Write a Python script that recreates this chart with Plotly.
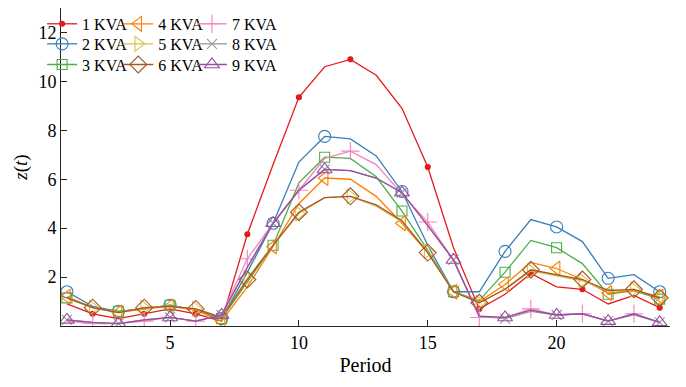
import plotly.graph_objects as go

periods = list(range(1, 25))

kva_1 = [0.9, 0.5, 0.3, 0.5, 0.7, 0.5, 0.2, 3.75, 6.6, 9.35, 10.6, 10.9, 10.25, 8.9, 6.5, 3.2, 0.7, 1.3, 2.15, 1.6, 1.5, 0.9, 1.25, 0.75]
kva_2 = [1.4, 0.8, 0.6, 0.7, 0.85, 0.65, 0.3, 2.2, 4.2, 6.7, 7.75, 7.65, 6.95, 5.5, 3.3, 1.4, 1.4, 3.05, 4.35, 4.05, 3.45, 1.95, 2.1, 1.4]
kva_3 = [1.15, 0.75, 0.6, 0.7, 0.85, 0.65, 0.3, 1.8, 3.3, 5.85, 6.9, 6.85, 6.1, 4.7, 3.1, 1.4, 1.05, 2.2, 3.5, 3.2, 2.55, 1.3, 1.45, 1.1]
kva_4 = [1.2, 0.75, 0.55, 0.7, 0.8, 0.65, 0.2, 1.6, 3.25, 5.0, 6.05, 6.0, 5.3, 4.2, 3.0, 1.4, 1.0, 1.7, 2.6, 2.35, 1.9, 1.35, 1.45, 1.2]
kva_5 = [1.15, 0.75, 0.55, 0.75, 0.8, 0.7, 0.35, 1.95, 3.3, 4.6, 5.25, 5.3, 4.9, 4.25, 3.05, 1.4, 0.95, 1.5, 2.25, 2.05, 1.85, 1.45, 1.5, 1.15]
kva_6 = [1.15, 0.75, 0.55, 0.75, 0.8, 0.7, 0.35, 1.9, 3.3, 4.65, 5.25, 5.3, 4.95, 4.3, 3.0, 1.4, 0.95, 1.5, 2.3, 2.1, 1.9, 1.45, 1.5, 1.15]
kva_7 = [0.2, 0.1, 0.1, 0.2, 0.35, 0.2, 0.45, 2.75, 4.2, 5.55, 6.85, 7.15, 6.6, 5.4, 4.25, 2.7, 0.35, 0.35, 0.7, 0.45, 0.5, 0.2, 0.5, 0.15]
kva_8 = [0.25, 0.15, 0.1, 0.25, 0.35, 0.2, 0.45, 2.4, 4.2, 5.55, 6.4, 6.35, 6.05, 5.45, 4.1, 2.7, 0.4, 0.3, 0.6, 0.45, 0.5, 0.2, 0.45, 0.15]
kva_9 = [0.25, 0.15, 0.1, 0.25, 0.35, 0.2, 0.45, 2.4, 4.2, 5.55, 6.4, 6.35, 6.05, 5.45, 4.1, 2.7, 0.4, 0.35, 0.65, 0.45, 0.5, 0.2, 0.5, 0.15]

series_names = ["1 KVA", "2 KVA", "3 KVA", "4 KVA", "5 KVA", "6 KVA", "7 KVA", "8 KVA", "9 KVA"]
series_values = [kva_1, kva_2, kva_3, kva_4, kva_5, kva_6, kva_7, kva_8, kva_9]

# periods at which markers are drawn
marks_odd = [1, 3, 5, 7, 9, 11, 14, 16, 18, 20, 22, 24]
marks_even = [2, 4, 6, 8, 10, 12, 15, 17, 19, 21, 23]
marks_red = [2, 4, 6, 8, 10, 12, 15, 17, 19, 21, 24]
marks_brown = [2, 4, 6, 8, 10, 12, 15, 17, 19, 21, 23, 24]

styles = [
    dict(color="#e41a1c", symbol="circle", size=5, marks=marks_red),
    dict(color="#377eb8", symbol="circle-open", size=12, marks=marks_odd),
    dict(color="#4daf4a", symbol="square-open", size=10, marks=marks_odd),
    dict(color="#ff7f00", symbol="triangle-left-open", size=13, marks=marks_odd),
    dict(color="#d9c24a", symbol="triangle-right-open", size=13, marks=marks_brown),
    dict(color="#a65628", symbol="diamond-open", size=13, marks=marks_brown),
    dict(color="#f781bf", symbol="cross-thin-open", size=13, marks=marks_even),
    dict(color="#999999", symbol="x-thin-open", size=10, marks=marks_odd),
    dict(color="#984ea3", symbol="triangle-up-open", size=13, marks=marks_odd),
]

# legend grid: 3 rows x 3 columns (column-major), one legend box per entry
col_x = [-0.031, 0.094, 0.215]
row_y = [0.950, 0.887, 0.822]

fig = go.Figure()
legend_layout = {}
for i, (name, vals, st) in enumerate(zip(series_names, series_values, styles)):
    lg = "legend" if i == 0 else f"legend{i + 1}"
    fig.add_trace(go.Scatter(
        x=periods, y=vals, mode="lines",
        line=dict(color=st["color"], width=1.3),
        showlegend=False, legendgroup=name, hoverinfo="skip",
    ))
    mx = [p for p in st["marks"]]
    my = [vals[p - 1] for p in st["marks"]]
    fig.add_trace(go.Scatter(
        x=mx, y=my, mode="markers",
        marker=dict(symbol=st["symbol"], size=st["size"], color=st["color"],
                    line=dict(color=st["color"], width=1.1)),
        showlegend=False, legendgroup=name,
    ))
    fig.add_trace(go.Scatter(
        x=[None], y=[None], mode="lines+markers", name=name,
        line=dict(color=st["color"], width=1.3),
        marker=dict(symbol=st["symbol"], size=st["size"], color=st["color"],
                    line=dict(color=st["color"], width=1.1)),
        legend=lg, legendgroup=name,
    ))
    legend_layout[lg] = dict(
        font=dict(family="Liberation Serif", size=16, color="black"),
        bgcolor="rgba(0,0,0,0)", borderwidth=0,
        xanchor="left", yanchor="middle",
        x=col_x[i // 3], y=row_y[i % 3],
        itemwidth=30, orientation="v",
    )

font_family = "Liberation Serif"

fig.update_layout(
    width=686, height=387,
    margin=dict(l=61, r=16, t=8, b=61, autoexpand=False),
    paper_bgcolor="white", plot_bgcolor="white",
    font=dict(family=font_family, size=18, color="black"),
    showlegend=True,
    xaxis=dict(
        range=[0.77, 24.4], tickvals=[5, 10, 15, 20],
        ticks="inside", ticklen=6, tickcolor="#262626", tickwidth=1,
        showline=True, linecolor="#262626", linewidth=1,
        showgrid=False, zeroline=False,
        tickfont=dict(family=font_family, size=18, color="black"),
        title=dict(text="Period", font=dict(family=font_family, size=20, color="black"), standoff=6),
    ),
    yaxis=dict(
        range=[0, 13], tickvals=[2, 4, 6, 8, 10, 12],
        ticks="inside", ticklen=6, tickcolor="#262626", tickwidth=1,
        showline=True, linecolor="#262626", linewidth=1,
        showgrid=False, zeroline=False,
        tickfont=dict(family=font_family, size=18, color="black"),
        title=dict(text="<i>z</i>(<i>t</i>)", font=dict(family=font_family, size=19, color="black"), standoff=5),
    ),
    **legend_layout,
)

fig.write_html("out.html", config={"displayModeBar": False},
               post_script="document.body.style.margin='0';")
